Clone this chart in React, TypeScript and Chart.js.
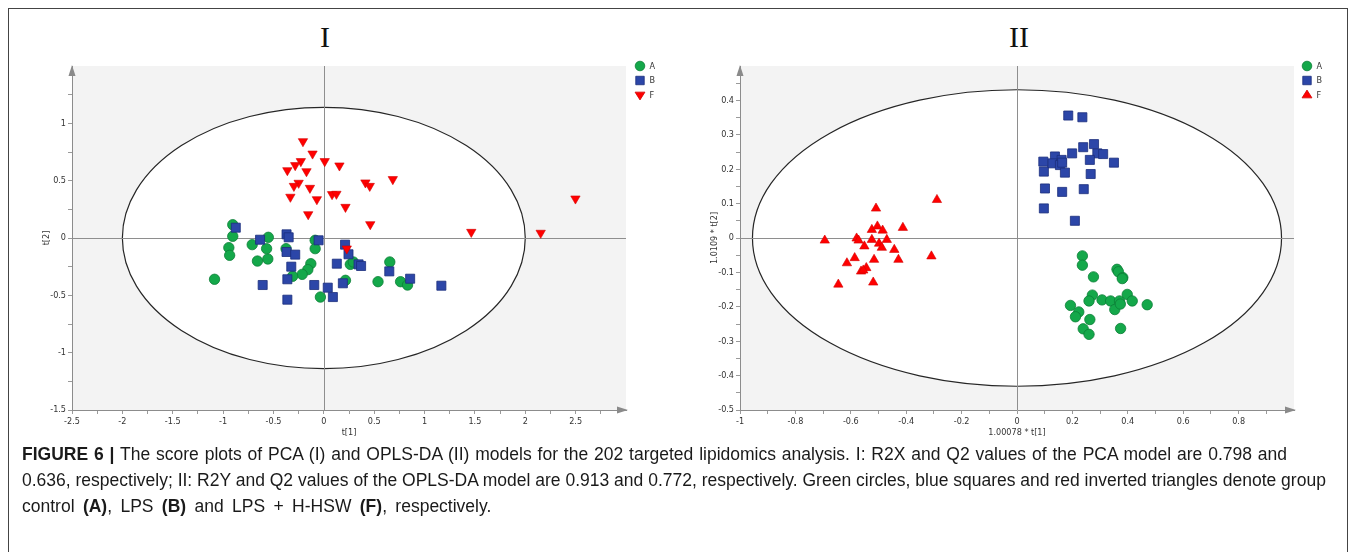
import React, { useEffect, useRef } from 'react';
import { Chart, registerables } from 'chart.js';

Chart.register(...registerables);

// ---------- Data: PCA score plot (I) ----------
const pcaA: [number, number][] = [
  [-0.904, 0.116], [-0.904, 0.015], [-0.943, -0.084], [-0.935, -0.151], [-1.085, -0.36],
  [-0.711, -0.058], [-0.551, 0.006], [-0.568, -0.093], [-0.659, -0.201], [-0.556, -0.183],
  [-0.375, -0.093], [-0.086, -0.02], [-0.086, -0.093], [-0.129, -0.224], [-0.159, -0.276],
  [-0.215, -0.317], [-0.31, -0.334], [-0.034, -0.515], [0.215, -0.369], [0.263, -0.23],
  [0.293, -0.209], [0.655, -0.209], [0.538, -0.381], [0.762, -0.381], [0.831, -0.41],
];
const pcaB: [number, number][] = [
  [-0.874, 0.09], [-0.633, -0.015], [-0.37, 0.032], [-0.349, 0.006], [-0.37, -0.122],
  [-0.284, -0.145], [-0.052, -0.02], [-0.323, -0.25], [-0.362, -0.36], [-0.607, -0.41],
  [-0.362, -0.538], [-0.095, -0.41], [0.039, -0.433], [0.09, -0.515], [0.189, -0.395],
  [0.129, -0.224], [0.211, -0.058], [0.245, -0.142], [0.345, -0.23], [0.37, -0.244],
  [0.65, -0.291], [0.857, -0.355], [1.167, -0.416],
];
const pcaF: [number, number][] = [
  [-0.207, 0.843], [-0.112, 0.735], [0.009, 0.669], [0.155, 0.631], [-0.228, 0.669],
  [-0.284, 0.634], [-0.362, 0.59], [-0.172, 0.581], [-0.25, 0.48], [-0.297, 0.453],
  [-0.138, 0.436], [-0.332, 0.358], [-0.069, 0.337], [0.082, 0.381], [0.125, 0.384],
  [-0.155, 0.206], [0.215, 0.27], [0.413, 0.483], [0.456, 0.453], [0.685, 0.512],
  [0.461, 0.119], [1.464, 0.052], [2.153, 0.044], [2.498, 0.343], [0.228, -0.093],
];

// ---------- Data: OPLS-DA score plot (II) ----------
const oplsA: [number, number][] = [
  [0.236, -0.052], [0.236, -0.079], [0.276, -0.113], [0.361, -0.091], [0.366, -0.098],
  [0.382, -0.115], [0.38, -0.118], [0.272, -0.166], [0.26, -0.183], [0.307, -0.18],
  [0.338, -0.183], [0.353, -0.208], [0.37, -0.183], [0.373, -0.192], [0.398, -0.164],
  [0.416, -0.183], [0.47, -0.194], [0.193, -0.196], [0.223, -0.215], [0.211, -0.229],
  [0.263, -0.237], [0.239, -0.264], [0.26, -0.28], [0.374, -0.263],
];
const oplsB: [number, number][] = [
  [0.185, 0.356], [0.236, 0.351], [0.278, 0.273], [0.239, 0.264], [0.199, 0.246],
  [0.29, 0.246], [0.311, 0.244], [0.35, 0.219], [0.263, 0.227], [0.266, 0.186],
  [0.137, 0.237], [0.161, 0.227], [0.127, 0.217], [0.095, 0.222], [0.155, 0.212],
  [0.163, 0.219], [0.097, 0.193], [0.173, 0.19], [0.101, 0.144], [0.163, 0.134],
  [0.241, 0.142], [0.097, 0.086], [0.209, 0.05],
];
const oplsF: [number, number][] = [
  [-0.694, -0.007], [-0.645, -0.135], [-0.614, -0.073], [-0.586, -0.058], [-0.579, -0.001],
  [-0.572, -0.007], [-0.551, -0.024], [-0.563, -0.097], [-0.544, -0.087], [-0.555, -0.094],
  [-0.519, -0.129], [-0.516, -0.063], [-0.524, -0.005], [-0.524, 0.024], [-0.509, 0.086],
  [-0.504, 0.034], [-0.498, -0.016], [-0.488, -0.028], [-0.485, 0.022], [-0.47, -0.005],
  [-0.443, -0.034], [-0.428, -0.063], [-0.412, 0.03], [-0.309, -0.053], [-0.289, 0.111],
];

const groupLabels = ['A', 'B', 'F'];

// ---------- Axes ----------
const pcaXRange = [-2.5, 3.0];
const pcaYRange = [-1.5, 1.5];
const pcaXTicks = [-2.5, -2, -1.5, -1, -0.5, 0, 0.5, 1, 1.5, 2, 2.5];
const pcaXMinor = [-2.25, -1.75, -1.25, -0.75, -0.25, 0.25, 0.75, 1.25, 1.75, 2.25, 2.75];
const pcaYTicks = [-1.5, -1, -0.5, 0, 0.5, 1];
const pcaYMinor = [-1.25, -0.75, -0.25, 0.25, 0.75, 1.25];
const pcaEllipse = [2.0, 1.14];

const oplsXRange = [-1, 1];
const oplsYRange = [-0.5, 0.5];
const oplsXTicks = [-1, -0.8, -0.6, -0.4, -0.2, 0, 0.2, 0.4, 0.6, 0.8];
const oplsXMinor = [-0.9, -0.7, -0.5, -0.3, -0.1, 0.1, 0.3, 0.5, 0.7, 0.9];
const oplsYTicks = [-0.5, -0.4, -0.3, -0.2, -0.1, 0, 0.1, 0.2, 0.3, 0.4];
const oplsYMinor = [-0.45, -0.35, -0.25, -0.15, -0.05, 0.05, 0.15, 0.25, 0.35, 0.45];
const oplsEllipse = [0.955, 0.431];

const TICK_FONT = { family: "'Liberation Sans Narrow', 'DejaVu Sans Condensed', Arial, sans-serif", size: 9 };

const GREEN = { fill: '#14a84a', stroke: '#0c7f37' };
const BLUE = { fill: '#2c46a8', stroke: '#1c2f7c' };
const RED = { fill: '#ff0000', stroke: '#d40000' };

function drawMarker(ctx: CanvasRenderingContext2D, style: string, rot: number, x: number, y: number, r: number) {
  ctx.beginPath();
  if (style === 'circle') {
    ctx.arc(x, y, r, 0, Math.PI * 2);
  } else if (style === 'rect') {
    const s = r * Math.SQRT1_2;
    ctx.rect(x - s, y - s, 2 * s, 2 * s);
  } else {
    const down = rot === 180;
    const w = r * 0.95;
    if (down) {
      ctx.moveTo(x - w, y - r * 0.55);
      ctx.lineTo(x + w, y - r * 0.55);
      ctx.lineTo(x, y + r * 0.95);
    } else {
      ctx.moveTo(x - w, y + r * 0.55);
      ctx.lineTo(x + w, y + r * 0.55);
      ctx.lineTo(x, y - r * 0.95);
    }
    ctx.closePath();
  }
  ctx.fill();
  ctx.stroke();
}

const scoreDecor = {
  id: 'scoreDecor',
  beforeDraw(chart: any) {
    const { ctx, chartArea: a } = chart;
    ctx.save();
    ctx.fillStyle = '#f3f3f3';
    ctx.fillRect(a.left, a.top, a.right - a.left, a.bottom - a.top);
    ctx.restore();
  },
  beforeDatasetsDraw(chart: any, _args: any, opts: any) {
    const { ctx, chartArea: a, scales } = chart;
    const xs = scales.x;
    const ys = scales.y;
    const cx = xs.getPixelForValue(0);
    const cy = ys.getPixelForValue(0);
    const rx = xs.getPixelForValue(opts.ellipse[0]) - cx;
    const ry = cy - ys.getPixelForValue(opts.ellipse[1]);
    ctx.save();
    ctx.beginPath();
    ctx.ellipse(cx, cy, rx, ry, 0, 0, Math.PI * 2);
    ctx.fillStyle = '#ffffff';
    ctx.fill();
    ctx.lineWidth = 1.2;
    ctx.strokeStyle = '#262626';
    ctx.stroke();
    ctx.strokeStyle = '#8e8e8e';
    ctx.lineWidth = 1;
    ctx.beginPath();
    ctx.moveTo(Math.round(cx) + 0.5, a.top);
    ctx.lineTo(Math.round(cx) + 0.5, a.bottom);
    ctx.moveTo(a.left, Math.round(cy) + 0.5);
    ctx.lineTo(a.right, Math.round(cy) + 0.5);
    ctx.stroke();
    ctx.restore();
  },
  afterDraw(chart: any, _args: any, opts: any) {
    const { ctx, chartArea: a } = chart;
    ctx.save();
    // axis arrows
    ctx.fillStyle = '#8a8a8a';
    ctx.beginPath();
    ctx.moveTo(a.right + 2, a.bottom);
    ctx.lineTo(a.right - 9, a.bottom - 3.5);
    ctx.lineTo(a.right - 9, a.bottom + 3.5);
    ctx.closePath();
    ctx.fill();
    ctx.beginPath();
    ctx.moveTo(a.left, a.top - 1);
    ctx.lineTo(a.left - 3.5, a.top + 10);
    ctx.lineTo(a.left + 3.5, a.top + 10);
    ctx.closePath();
    ctx.fill();
    // legend
    const lx = a.right + opts.legendDx;
    ctx.font = `9px ${TICK_FONT.family}`;
    ctx.textBaseline = 'middle';
    ctx.textAlign = 'left';
    chart.data.datasets.forEach((ds: any, i: number) => {
      const y = opts.legendTop + i * 14.5;
      ctx.fillStyle = ds.backgroundColor;
      ctx.strokeStyle = ds.borderColor;
      ctx.lineWidth = 0.8;
      const r = ds.pointStyle === 'rect' ? 6.0 : ds.pointStyle === 'circle' ? 4.8 : 5.2;
      drawMarker(ctx, ds.pointStyle, ds.pointRotation || 0, lx, y, r);
      ctx.fillStyle = '#333';
      ctx.fillText(ds.label, lx + 9.5, y + 0.5);
    });
    ctx.restore();
  },
};

function makeAxis(range: number[], major: number[], minor: number[], title: string, horizontal: boolean) {
  const all = [...major, ...minor].sort((p, q) => p - q);
  return {
    type: 'linear',
    position: horizontal ? 'bottom' : 'left',
    min: range[0],
    max: range[1],
    afterBuildTicks: (s: any) => {
      s.ticks = all.map((v) => ({ value: v }));
    },
    afterFit: (s: any) => {
      if (horizontal) s.height = 30;
      else s.width = 36;
    },
    ticks: {
      autoSkip: false,
      maxRotation: 0,
      minRotation: 0,
      padding: 2,
      color: '#333',
      font: TICK_FONT,
      callback: (v: number) => (major.includes(v) ? String(v) : ''),
    },
    grid: { drawOnChartArea: false, drawTicks: true, tickLength: 4, color: '#9a9a9a' },
    border: { display: true, color: '#8c8c8c', width: 1 },
    title: {
      display: true,
      text: title,
      color: '#333',
      font: TICK_FONT,
      padding: horizontal ? { top: 0, bottom: 2 } : { top: 5, bottom: 0 },
    },
  };
}

function makeDatasets(a: [number, number][], b: [number, number][], f: [number, number][], down: boolean) {
  const toPts = (arr: [number, number][]) => arr.map(([x, y]) => ({ x, y }));
  return [
    {
      label: groupLabels[0], data: toPts(a), pointStyle: 'circle', pointRadius: 5.2,
      backgroundColor: GREEN.fill, borderColor: GREEN.stroke, borderWidth: 0.8, order: 3,
    },
    {
      label: groupLabels[1], data: toPts(b), pointStyle: 'rect', pointRadius: 6.4,
      backgroundColor: BLUE.fill, borderColor: BLUE.stroke, borderWidth: 0.8, order: 2,
    },
    {
      label: groupLabels[2], data: toPts(f), pointStyle: 'triangle', pointRadius: 5.4,
      pointRotation: down ? 180 : 0,
      backgroundColor: RED.fill, borderColor: RED.stroke, borderWidth: 0.6, order: 1,
    },
  ];
}

function ScorePlot(props: {
  left: number; width: number; padLeft: number; padRight: number;
  datasets: any[]; xRange: number[]; yRange: number[]; xMajor: number[]; xMinor: number[];
  yMajor: number[]; yMinor: number[]; xTitle: string; yTitle: string; ellipse: number[]; legendDx: number;
}) {
  const ref = useRef<HTMLCanvasElement | null>(null);
  useEffect(() => {
    if (!ref.current) return;
    const chart = new Chart(ref.current, {
      type: 'scatter',
      data: { datasets: props.datasets },
      options: {
        animation: false,
        responsive: false,
        devicePixelRatio: 1,
        layout: { padding: { left: props.padLeft, right: props.padRight, top: 66, bottom: 112 } },
        scales: {
          x: makeAxis(props.xRange, props.xMajor, props.xMinor, props.xTitle, true) as any,
          y: makeAxis(props.yRange, props.yMajor, props.yMinor, props.yTitle, false) as any,
        },
        plugins: {
          legend: { display: false },
          tooltip: { enabled: false },
          scoreDecor: { ellipse: props.ellipse, legendDx: props.legendDx, legendTop: 66 },
        } as any,
      },
      plugins: [scoreDecor],
    } as any);
    return () => chart.destroy();
  }, []);
  return (
    <canvas
      ref={ref}
      width={props.width}
      height={552}
      style={{ position: 'absolute', left: props.left, top: 0, width: props.width, height: 552 }}
    />
  );
}

const captionLine: React.CSSProperties = {
  whiteSpace: 'nowrap',
  height: 26,
};

export default function App() {
  return (
    <div style={{ position: 'fixed', left: 0, top: 0, width: 1355, height: 552, overflow: 'hidden', background: '#fff' }}>
      <div style={{ position: 'absolute', left: 8, top: 8, width: 1338, height: 560, borderTop: '1px solid #444', borderLeft: '1px solid #444', borderRight: '1px solid #444' }} />
      <div style={{ position: 'absolute', left: 265, top: 17, width: 120, textAlign: 'center', fontFamily: "'Liberation Serif', 'DejaVu Serif', serif", fontSize: 30, lineHeight: '40px', color: '#111' }}>I</div>
      <div style={{ position: 'absolute', left: 959, top: 17, width: 120, textAlign: 'center', fontFamily: "'Liberation Serif', 'DejaVu Serif', serif", fontSize: 30, lineHeight: '40px', color: '#111' }}>II</div>
      <ScorePlot
        left={0} width={680} padLeft={36} padRight={54}
        datasets={makeDatasets(pcaA, pcaB, pcaF, true)}
        xRange={pcaXRange} yRange={pcaYRange}
        xMajor={pcaXTicks} xMinor={pcaXMinor} yMajor={pcaYTicks} yMinor={pcaYMinor}
        xTitle="t[1]" yTitle="t[2]" ellipse={pcaEllipse} legendDx={14}
      />
      <ScorePlot
        left={680} width={675} padLeft={24} padRight={61}
        datasets={makeDatasets(oplsA, oplsB, oplsF, false)}
        xRange={oplsXRange} yRange={oplsYRange}
        xMajor={oplsXTicks} xMinor={oplsXMinor} yMajor={oplsYTicks} yMinor={oplsYMinor}
        xTitle="1.00078 * t[1]" yTitle="1.0109 * t[2]" ellipse={oplsEllipse} legendDx={13}
      />
      <div style={{ position: 'absolute', left: 22, top: 441, fontFamily: "'Liberation Sans', Arial, sans-serif", fontSize: 17.5, lineHeight: '26px', color: '#1a1a1a' }}>
        <div style={{ ...captionLine, wordSpacing: 1.0 }}>
          <b>FIGURE 6 |</b> The score plots of PCA (I) and OPLS-DA (II) models for the 202 targeted lipidomics analysis. I: R2X and Q2 values of the PCA model are 0.798 and
        </div>
        <div style={{ ...captionLine, wordSpacing: 0 }}>
          0.636, respectively; II: R2Y and Q2 values of the OPLS-DA model are 0.913 and 0.772, respectively. Green circles, blue squares and red inverted triangles denote group
        </div>
        <div style={{ ...captionLine, wordSpacing: 3.5 }}>
          control <b>(A)</b>, LPS <b>(B)</b> and LPS + H-HSW <b>(F)</b>, respectively.
        </div>
      </div>
    </div>
  );
}
